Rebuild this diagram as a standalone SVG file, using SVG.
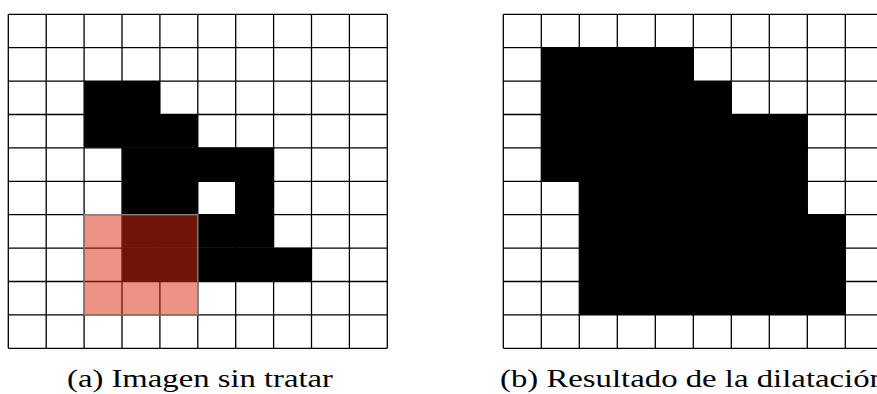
<svg xmlns="http://www.w3.org/2000/svg" width="877" height="394" viewBox="0 0 877 394">
<style>
.blk{fill:#000}
.grid{stroke:#000;stroke-width:1.3;fill:none}
.cap{font-family:"Liberation Serif","DejaVu Serif",serif;font-size:25.5px;fill:#000}
</style>
<rect width="877" height="394" fill="#fff"/>
<g id="grid-a">
<g class="blk">
<rect x="84.2" y="81" width="75.8" height="33.4"/>
<rect x="84.2" y="114.3" width="113.7" height="33.4"/>
<rect x="122.1" y="147.7" width="151.6" height="33.4"/>
<rect x="122.1" y="181" width="75.8" height="33.4"/>
<rect x="235.8" y="181" width="37.9" height="33.4"/>
<rect x="122.1" y="214.4" width="151.6" height="33.4"/>
<rect x="122.1" y="247.8" width="189.5" height="33.4"/>
</g>
<path class="grid" d="M8.3 14.3V348.3M46.2 14.3V348.3M84.1 14.3V348.3M122 14.3V348.3M159.9 14.3V348.3M197.8 14.3V348.3M235.7 14.3V348.3M273.6 14.3V348.3M311.5 14.3V348.3M349.4 14.3V348.3M387.3 14.3V348.3M8.3 14.3H387.3M8.3 47.7H387.3M8.3 81.1H387.3M8.3 114.5H387.3M8.3 147.9H387.3M8.3 181.3H387.3M8.3 214.7H387.3M8.3 248.1H387.3M8.3 281.5H387.3M8.3 314.9H387.3M8.3 348.3H387.3"/>
<rect x="84.1" y="214.7" width="113.7" height="100.2" fill="rgb(218,41,10)" fill-opacity="0.51" stroke="#888" stroke-width="1.3"/>
</g>
<g id="grid-b">
<g class="blk">
<rect x="541.7" y="47.7" width="152" height="33.4"/>
<rect x="541.7" y="81" width="190" height="33.4"/>
<rect x="541.7" y="114.4" width="266" height="66.8"/>
<rect x="579.7" y="181" width="228" height="33.6"/>
<rect x="579.7" y="214.6" width="266" height="100.3"/>
</g>
<path class="grid" d="M503.3 14.3V348.3M541.3 14.3V348.3M579.3 14.3V348.3M617.3 14.3V348.3M655.3 14.3V348.3M693.3 14.3V348.3M731.3 14.3V348.3M769.3 14.3V348.3M807.3 14.3V348.3M845.3 14.3V348.3M503.3 14.3H877M503.3 47.7H877M503.3 81.1H877M503.3 114.5H877M503.3 147.9H877M503.3 181.3H877M503.3 214.7H877M503.3 248.1H877M503.3 281.5H877M503.3 314.9H877M503.3 348.3H877"/>
</g>
<text class="cap" x="67" y="387" textLength="266" lengthAdjust="spacingAndGlyphs">(a) Imagen sin tratar</text>
<text class="cap" x="500" y="387" textLength="386" lengthAdjust="spacingAndGlyphs">(b) Resultado de la dilatación</text>
</svg>
